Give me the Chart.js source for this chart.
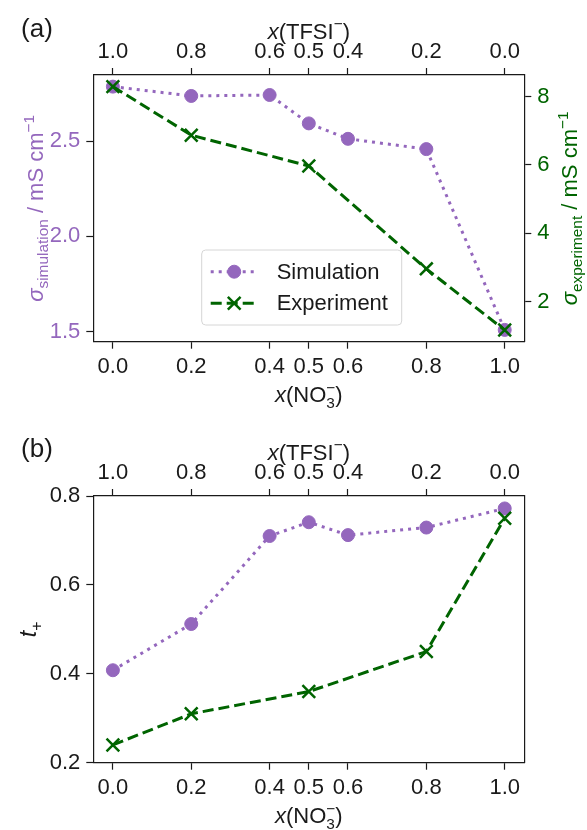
<!DOCTYPE html>
<html>
<head>
<meta charset="utf-8">
<script src="https://cdn.jsdelivr.net/npm/chart.js@4.4.1/dist/chart.umd.min.js"></script>
<style>
  html, body { margin: 0; padding: 0; background: #fff; }
  canvas { display: block; }
</style>
</head>
<body>
<canvas id="chartA" width="587" height="421"></canvas>
<canvas id="chartB" width="587" height="409"></canvas>
<script>
// x(NO3-) positions and the matching x(TFSI-) labels on the top axis
const nitrateTicks = [0, 0.2, 0.4, 0.5, 0.6, 0.8, 1.0];
const tfsiTickLabels = ['1.0', '0.8', '0.6', '0.5', '0.4', '0.2', '0.0'];

const simX = [0, 0.2, 0.4, 0.5, 0.6, 0.8, 1.0];
const expX = [0, 0.2, 0.5, 0.8, 1.0];

// (a) conductivity, mS cm-1
const simConductivity = [2.786, 2.737, 2.742, 2.593, 2.512, 2.458, 1.509];
const expConductivity = [8.29, 6.87, 5.97, 2.96, 1.17];

// (b) transference number
const simTransference = [0.408, 0.512, 0.710, 0.741, 0.712, 0.729, 0.772];
const expTransference = [0.240, 0.310, 0.360, 0.450, 0.750];

const simTicks = [1.5, 2.0, 2.5];
const expTicks = [2, 4, 6, 8];
const tTicks = [0.2, 0.4, 0.6, 0.8];

const PURPLE = '#9467bd';
const GREEN = '#006400';
const INK = '#1a1a1a';
const FAMILY = '"Liberation Sans", Arial, Helvetica, sans-serif';
const FS = 22;

const toPoints = (xs, ys) => xs.map((x, i) => ({ x: x, y: ys[i] }));

function fontStr(size, italic) {
  return (italic ? 'italic ' : '') + size + 'px ' + FAMILY;
}

// draws text made of pieces (italic, sub, sup, stacked sub+sup), centred on (cx, cy) baseline
function drawRich(ctx, parts, cx, cy, size, color, angle) {
  const small = size * 0.7;
  const width = p => {
    if (p.stack) {
      ctx.font = fontStr(small, false);
      return Math.max(ctx.measureText(p.stack[0]).width, ctx.measureText(p.stack[1]).width);
    }
    ctx.font = fontStr(p.pos ? small : size, p.it);
    return ctx.measureText(p.t).width;
  };
  ctx.save();
  ctx.translate(cx, cy);
  ctx.rotate(angle || 0);
  ctx.fillStyle = color;
  ctx.textAlign = 'left';
  ctx.textBaseline = 'alphabetic';
  const total = parts.reduce((a, p) => a + width(p), 0);
  let x = -total / 2;
  for (const p of parts) {
    const w = width(p);
    if (p.stack) {
      ctx.font = fontStr(small, false);
      ctx.fillText(p.stack[0], x, size * 0.25);
      ctx.fillText(p.stack[1], x, -size * 0.42);
    } else {
      ctx.font = fontStr(p.pos ? small : size, p.it);
      const dy = p.pos === 'sub' ? size * 0.24 : p.pos === 'sup' ? -size * 0.42 : 0;
      ctx.fillText(p.t, x, dy);
    }
    x += w;
  }
  ctx.restore();
}

const titleTFSI = [{ t: 'x', it: true }, { t: '(TFSI' }, { t: '\u2212', pos: 'sup' }, { t: ')' }];
const titleNO3 = [{ t: 'x', it: true }, { t: '(NO' }, { stack: ['3', '\u2212'] }, { t: ')' }];

function titlesPlugin(items) {
  return {
    id: 'richTitles',
    afterDraw(chart) {
      const ctx = chart.ctx;
      items.forEach(it => drawRich(ctx, it.parts, it.x, it.y, it.size || FS, it.color || INK, it.angle));
    }
  };
}

// matplotlib style legend: line sample with the marker in the middle
function legendPlugin(box) {
  return {
    id: 'lineLegend',
    afterDatasetsDraw(chart) {
      const ctx = chart.ctx;
      ctx.save();
      ctx.beginPath();
      ctx.roundRect(box.x, box.y, box.w, box.h, 4);
      ctx.fillStyle = 'rgba(255,255,255,0.8)';
      ctx.fill();
      ctx.strokeStyle = '#d6d6d6';
      ctx.lineWidth = 1;
      ctx.stroke();
      chart.data.datasets.forEach((ds, i) => {
        const y = box.y + box.first + i * box.step;
        const x0 = box.x + 9, x1 = x0 + 47;
        ctx.beginPath();
        ctx.setLineDash(ds.borderDash || []);
        ctx.strokeStyle = ds.borderColor;
        ctx.lineWidth = ds.borderWidth;
        ctx.moveTo(x0, y);
        ctx.lineTo(x1, y);
        ctx.stroke();
        ctx.setLineDash([]);
        ctx.strokeStyle = ds.pointBorderColor;
        ctx.fillStyle = ds.pointBackgroundColor;
        ctx.lineWidth = ds.pointBorderWidth;
        Chart.helpers.drawPoint(ctx, {
          pointStyle: ds.pointStyle, radius: ds.pointRadius,
          borderWidth: ds.pointBorderWidth, rotation: 0
        }, (x0 + x1) / 2, y);
        ctx.fillStyle = INK;
        ctx.font = fontStr(FS, false);
        ctx.textAlign = 'left';
        ctx.textBaseline = 'middle';
        ctx.fillText(ds.label, box.x + 75, y + 1);
      });
      ctx.restore();
    }
  };
}

function setTicks(values) {
  return scale => { scale.ticks = values.map(v => ({ value: v })); };
}

function fixed(prop, size) {
  return scale => { scale[prop] = size; };
}

const tickGrid = { display: true, drawOnChartArea: false, drawTicks: true, tickLength: 7, tickColor: INK, tickWidth: 1.2 };
const frame = { display: true, color: INK, width: 1.2 };

function xAxes(bottomHeight) {
  return {
    x: {
      type: 'linear', position: 'bottom', min: -0.05, max: 1.05,
      afterBuildTicks: setTicks(nitrateTicks),
      afterFit: fixed('height', bottomHeight),
      grid: tickGrid, border: frame,
      ticks: { color: INK, font: { family: FAMILY, size: FS }, padding: 5, maxRotation: 0,
        callback: v => v.toFixed(1) }
    },
    xTop: {
      type: 'linear', position: 'top', display: true, min: -0.05, max: 1.05,
      afterBuildTicks: setTicks(nitrateTicks),
      afterFit: fixed('height', 75),
      grid: tickGrid, border: frame,
      ticks: { color: INK, font: { family: FAMILY, size: FS }, padding: 3, maxRotation: 0,
        callback: v => tfsiTickLabels[nitrateTicks.indexOf(v)] }
    }
  };
}

function simSet(values) {
  return {
    label: 'Simulation', data: toPoints(simX, values), yAxisID: 'y', order: 2,
    borderColor: PURPLE, backgroundColor: PURPLE, borderWidth: 3, borderDash: [3, 5],
    borderCapStyle: 'butt', tension: 0,
    pointStyle: 'circle', pointRadius: 6.5, pointBorderWidth: 1,
    pointBackgroundColor: PURPLE, pointBorderColor: PURPLE
  };
}

function expSet(values, axis) {
  return {
    label: 'Experiment', data: toPoints(expX, values), yAxisID: axis, order: 1,
    borderColor: GREEN, backgroundColor: GREEN, borderWidth: 3, borderDash: [11, 5],
    borderCapStyle: 'butt', tension: 0,
    pointStyle: 'crossRot', pointRadius: 9, pointBorderWidth: 2.5,
    pointBackgroundColor: GREEN, pointBorderColor: GREEN
  };
}

const common = {
  responsive: false, animation: false, devicePixelRatio: 1,
  plugins: { legend: { display: false }, tooltip: { enabled: false } }
};

const midX = (93.3 + 524.3) / 2;
const midY = (75 + 341.7) / 2;

new Chart(document.getElementById('chartA'), {
  type: 'line',
  data: { datasets: [simSet(simConductivity), expSet(expConductivity, 'y2')] },
  options: Object.assign({}, common, {
    layout: { padding: 0 },
    scales: Object.assign(xAxes(79.3), {
      y: {
        type: 'linear', position: 'left', min: 1.447, max: 2.847,
        afterBuildTicks: setTicks(simTicks), afterFit: fixed('width', 93.3),
        grid: tickGrid, border: frame,
        ticks: { color: PURPLE, font: { family: FAMILY, size: FS }, padding: 6, callback: v => v.toFixed(1) }
      },
      y2: {
        type: 'linear', position: 'right', min: 0.83, max: 8.63,
        afterBuildTicks: setTicks(expTicks), afterFit: fixed('width', 62.7),
        grid: tickGrid, border: frame,
        ticks: { color: GREEN, font: { family: FAMILY, size: FS }, padding: 6, callback: v => String(v) }
      }
    })
  }),
  plugins: [
    legendPlugin({ x: 201.7, y: 250, w: 200, h: 75, first: 21.7, step: 31.6 }),
    titlesPlugin([
      { parts: [{ t: '(a)' }], x: 37, y: 37, size: 26 },
      { parts: titleTFSI, x: midX, y: 38.5 },
      { parts: titleNO3, x: midX, y: 402 },
      { parts: [{ t: '\u03c3', it: true }, { t: 'simulation', pos: 'sub' }, { t: ' / mS cm' }, { t: '\u22121', pos: 'sup' }],
        x: 43, y: midY, color: PURPLE, angle: -Math.PI / 2 },
      { parts: [{ t: '\u03c3', it: true }, { t: 'experiment', pos: 'sub' }, { t: ' / mS cm' }, { t: '\u22121', pos: 'sup' }],
        x: 577, y: midY, color: GREEN, angle: -Math.PI / 2 }
    ])
  ]
});

new Chart(document.getElementById('chartB'), {
  type: 'line',
  data: { datasets: [simSet(simTransference), expSet(expTransference, 'y')] },
  options: Object.assign({}, common, {
    layout: { padding: 0 },
    scales: Object.assign(xAxes(67.3), {
      y: {
        type: 'linear', position: 'left', min: 0.2, max: 0.8,
        afterBuildTicks: setTicks(tTicks), afterFit: fixed('width', 93.3),
        grid: tickGrid, border: frame,
        ticks: { color: INK, font: { family: FAMILY, size: FS }, padding: 6, callback: v => v.toFixed(1) }
      },
      yFrame: {
        type: 'linear', position: 'right', display: true, min: 0, max: 1,
        afterFit: fixed('width', 62.7),
        grid: { display: false }, border: frame, ticks: { display: false }
      }
    })
  }),
  plugins: [
    titlesPlugin([
      { parts: [{ t: '(b)' }], x: 37, y: 36, size: 26 },
      { parts: titleTFSI, x: midX, y: 38.5 },
      { parts: titleNO3, x: midX, y: 402 },
      { parts: [{ t: 't', it: true }, { t: '+', pos: 'sub' }], x: 36, y: midY, size: 23, angle: -Math.PI / 2 }
    ])
  ]
});
</script>
</body>
</html>
